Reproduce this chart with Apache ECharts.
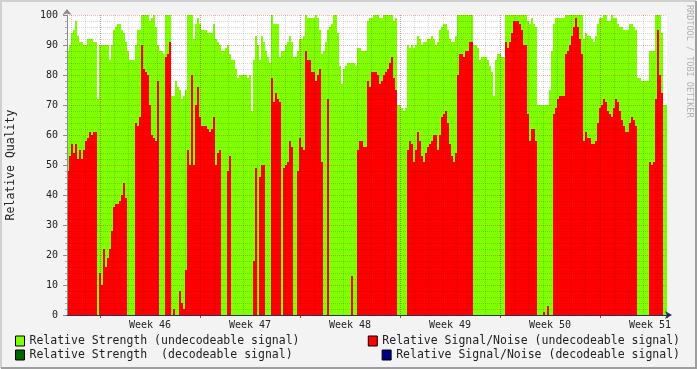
<!DOCTYPE html>
<html><head><meta charset="utf-8">
<script src="https://cdn.jsdelivr.net/npm/echarts@6/dist/echarts.min.js"></script>
<style>html,body{margin:0;padding:0;background:#f3f3f3;overflow:hidden}#c{width:697px;height:369px}</style>
</head><body><div id="c"></div>
<script>
// ---- data: one value per time step (300 steps over the 6 weeks shown) ----
const weekLabels = ['Week 46', 'Week 47', 'Week 48', 'Week 49', 'Week 50', 'Week 51'];
const yTicks = [0, 10, 20, 30, 40, 50, 60, 70, 80, 90, 100];
const strengthUndecodeable = [
  88,90,94,95,98,93,91,91,90,90, 92,92,92,91,91,72,90,90,90,90,
  90,85,90,95,96,97,97,95,94,91, 88,85,85,85,90,95,95,100,100,100,
  100,98,99,100,96,90,88,88,87,100,
  100,100,73,73,78,76,75,72,73,75, 100,100,100,92,97,99,97,95,95,95,
  94,94,94,97,92,91,90,88,88,89, 90,87,85,85,82,79,80,80,80,80,
  79,80,68,85,93,90,85,93,91,88,
  86,84,100,97,97,97,86,88,88,90, 91,93,91,86,86,88,92,92,93,100,
  99,99,99,99,100,99,95,87,88,91, 95,96,97,100,100,94,83,77,82,83,
  84,84,84,84,83,89,89,88,88,88,
  98,99,99,100,100,100,99,99,100,100, 100,100,100,98,99,70,70,69,68,69,
  90,89,90,89,90,93,92,90,91,91, 92,92,93,92,90,91,95,96,97,97,
  95,92,91,91,93,100,100,100,100,100,
  100,100,100,90,90,89,85,86,86,86, 85,83,81,73,85,87,87,86,86,100,
  100,100,100,100,100,100,100,100,100,100, 98,97,99,97,96,70,70,70,70,70,
  70,75,88,97,99,99,99,99,99,100,
  100,100,100,100,100,100,100,100,92,94, 93,93,92,91,93,97,99,99,100,100,
  98,98,100,99,99,97,96,96,95,95, 95,97,97,96,95,79,79,78,78,78,
  78,88,88,88,100,100,100,94,70,70
];
const snrUndecodeable = [
  48,53,57,54,57,52,55,52,55,58, 59,61,60,61,61,0,14,10,22,16,
  19,22,28,36,37,37,38,40,44,39, 0,0,0,0,64,63,66,90,82,81,
  80,70,60,59,58,78,0,0,0,86,
  87,91,0,2,0,0,8,4,2,15, 55,50,80,50,70,76,66,63,63,63,
  62,61,62,66,50,54,55,0,0,0, 48,53,0,0,0,0,0,0,0,0,
  0,0,0,18,49,0,46,50,50,0,
  0,0,79,71,74,72,71,0,49,50, 51,58,56,0,0,48,59,56,55,88,
  85,85,81,81,78,80,82,51,0,0, 72,0,0,0,0,0,0,0,0,0,
  0,0,13,0,0,55,58,58,56,56,
  78,76,81,81,81,80,77,78,80,81, 82,84,86,79,75,0,0,0,0,0,
  55,58,57,51,55,61,58,53,51,54, 56,57,58,60,60,55,60,66,67,68,
  64,57,53,51,54,80,87,87,86,88,
  88,91,91,0,0,0,0,0,0,0, 0,0,0,0,0,0,0,0,0,91,
  89,91,94,98,98,98,97,95,90,90, 67,58,62,62,58,0,0,0,1,0,
  3,0,0,67,69,72,73,73,73,87,
  88,90,93,96,99,96,92,87,58,61, 59,59,57,57,58,64,69,70,72,71,
  68,67,66,69,72,71,68,65,63,61, 61,64,66,65,63,0,0,0,0,0,
  0,51,50,51,72,95,80,74,0,0
];
const strengthDecodeable = [];
const snrDecodeable = [];

const names = [
  'Relative Strength (undecodeable signal)',
  'Relative Signal/Noise (undecodeable signal)',
  'Relative Strength  (decodeable signal)',
  'Relative Signal/Noise (decodeable signal)'
];
const colors = ['#80ff00', '#ff0000', '#006400', '#00008b'];

// ---- layout ----
const L = 67, T = 15, W = 600, H = 300;
const right = L + W;
const pxWeek = 100, firstWeekX = 100, pxDay = pxWeek / 7;
const firstDayX = firstWeekX - 2 * pxDay;
const FONT = 'DejaVu Sans Mono';
const minorGrid = { color: 'rgba(0,0,0,0.15)', type: [1, 1], width: 1 };
const majorGrid = { color: 'rgba(210,0,0,0.3)', type: [1, 1], width: 1 };
const nSteps = strengthUndecodeable.length;

const chart = echarts.init(document.getElementById('c'), null, { renderer: 'canvas' });
const hiddenY = (g) => ({ type: 'value', gridIndex: g, min: 0, max: 100, show: false });
const legendBase = {
  itemWidth: 9, itemHeight: 10, padding: 0, selectedMode: false, icon: 'rect',
  itemStyle: { borderColor: '#000', borderWidth: 1 },
  textStyle: { fontFamily: FONT, fontSize: 11.5, color: '#222' }
};
const gridBase = { top: T, height: H, containLabel: false, outerBoundsMode: 'none' };
// each value fills its own time step [i, i+1) from 0 up to the value
const stepSeries = (k, arr) => ({
  type: 'custom', name: names[k], silent: true, z: 2,
  xAxisIndex: 0, yAxisIndex: 0,
  itemStyle: { color: colors[k] },
  encode: { x: 0, y: 1 },
  data: arr.map((v, i) => [i, v]),
  renderItem: (params, api) => {
    const i = api.value(0), v = api.value(1);
    if (!(v > 0)) return null;
    const p0 = api.coord([i, v]);
    const p1 = api.coord([i + 1, 0]);
    const x0 = Math.round(p0[0]), x1 = Math.round(p1[0]);
    const y0 = Math.round(p0[1]), y1 = Math.round(p1[1]);
    return { type: 'rect', shape: { x: x0, y: y0, width: x1 - x0, height: y1 - y0 },
             style: { fill: colors[k] } };
  }
});

chart.setOption({
  animation: false,
  backgroundColor: '#f3f3f3',
  grid: [
    Object.assign({ left: L, width: W, show: true, backgroundColor: '#ffffff', borderWidth: 0 }, gridBase),
    Object.assign({ left: firstDayX, width: right - firstDayX }, gridBase),
    Object.assign({ left: firstWeekX, width: right - firstWeekX }, gridBase),
    Object.assign({ left: firstWeekX + pxWeek / 2, width: right - firstWeekX - pxWeek / 2 }, gridBase)
  ],
  xAxis: [
    { type: 'value', gridIndex: 0, min: 0, max: nSteps, z: 6,
      axisLine: { show: true, lineStyle: { color: '#2a2f5a', width: 1 }, symbol: ['none', 'arrow'], symbolSize: [6, 7], symbolOffset: [0, 5] },
      axisTick: { show: false }, axisLabel: { show: false }, splitLine: { show: false } },
    { type: 'value', gridIndex: 1, min: 0, max: (right - firstDayX) / pxDay, interval: 1, z: 5,
      axisLine: { show: false }, axisTick: { show: false }, axisLabel: { show: false },
      splitLine: { show: true, showMaxLine: false, lineStyle: minorGrid } },
    { type: 'value', gridIndex: 2, min: 0, max: (right - firstWeekX) / pxWeek, interval: 1, z: 5,
      axisLine: { show: false }, axisLabel: { show: false },
      axisTick: { show: true, length: 3, lineStyle: { color: '#cc3030' } },
      splitLine: { show: true, showMaxLine: false, lineStyle: majorGrid } },
    { type: 'value', gridIndex: 3, min: 0, max: (right - firstWeekX - pxWeek / 2) / pxWeek, interval: 1,
      axisLine: { show: false }, axisTick: { show: false }, splitLine: { show: false },
      axisLabel: { show: true, margin: 5, fontFamily: FONT, fontSize: 10, color: '#222',
        formatter: (v) => weekLabels[v] || '' } }
  ],
  yAxis: [
    { type: 'value', gridIndex: 0, min: yTicks[0], max: yTicks[yTicks.length - 1], interval: yTicks[1] - yTicks[0], z: 5,
      axisLine: { show: true, lineStyle: { color: '#8a8a8a' }, symbol: ['none', 'arrow'], symbolSize: [7, 6], symbolOffset: [0, 6] },
      axisTick: { show: true, length: 4, lineStyle: { color: '#8a8a8a' } },
      minorTick: { show: true, splitNumber: 5, length: 2, lineStyle: { color: '#aaaaaa' } },
      axisLabel: { fontFamily: FONT, fontSize: 10, color: '#222', margin: 9 },
      splitLine: { show: true, lineStyle: majorGrid },
      minorSplitLine: { show: true, lineStyle: minorGrid },
      name: 'Relative Quality', nameLocation: 'middle', nameRotate: 90, nameGap: 50,
      nameTextStyle: { fontFamily: FONT, fontSize: 11.5, color: '#222' } },
    hiddenY(1), hiddenY(2), hiddenY(3)
  ],
  legend: [
    Object.assign({}, legendBase, { data: [names[0]], left: 15, top: 335 }),
    Object.assign({}, legendBase, { data: [names[1]], right: 17, top: 335 }),
    Object.assign({}, legendBase, { data: [names[2]], left: 15, top: 349 }),
    Object.assign({}, legendBase, { data: [names[3]], right: 17, top: 349 })
  ],
  series: [
    stepSeries(0, strengthUndecodeable),
    stepSeries(1, snrUndecodeable),
    stepSeries(2, strengthDecodeable),
    stepSeries(3, snrDecodeable)
  ],
  graphic: [
    { type: 'text', x: 689, y: 5, rotation: -Math.PI / 2, silent: true,
      style: { text: 'RRDTOOL / TOBI OETIKER', fill: '#b0b0b0', font: '8.5px "DejaVu Sans Mono"', align: 'left', verticalAlign: 'middle' } },
    { type: 'polyline', silent: true, shape: { points: [[1, 368], [1, 1], [696, 1]] }, style: { stroke: '#d0d0d0', lineWidth: 2, fill: null } },
    { type: 'polyline', silent: true, shape: { points: [[1, 368], [696, 368], [696, 1]] }, style: { stroke: '#9e9e9e', lineWidth: 2, fill: null } }
  ]
});
</script></body></html>
